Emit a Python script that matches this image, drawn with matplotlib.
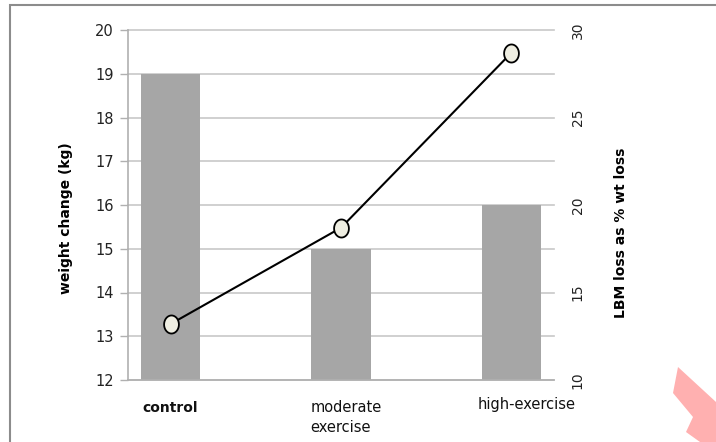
import matplotlib
matplotlib.use("Agg")
import matplotlib.pyplot as plt
import numpy as np
from matplotlib.path import Path
from matplotlib.patches import Polygon, Rectangle

# Data
groups = ["control", "moderate\nexercise", "high-exercise"]
weight_change = [19, 15, 16]          # kg, bars (left axis)
lbm_loss_pct = [13.2, 18.7, 28.7]     # % of weight loss, line (right axis)
left_ticks = [12, 13, 14, 15, 16, 17, 18, 19, 20]
right_ticks = [10, 15, 20, 25, 30]

W, H = 716, 442
fig = plt.figure(figsize=(W / 100, H / 100), dpi=100)

# outer chart frame
fig.add_artist(Rectangle((10 / W, -0.1), 1.2, (H - 5.5) / H + 0.1,
                         transform=fig.transFigure, fill=False,
                         edgecolor="#8c8c8c", linewidth=1.5))

ax = fig.add_axes([128 / W, (H - 380) / H, (554 - 128) / W, (380 - 30) / H])
x = np.arange(len(groups))
ax.set_xlim(-0.25, 2.25)
ax.set_ylim(12, 20)
ax.bar(x, weight_change, width=0.35, color="#a6a6a6", zorder=2)
ax.set_yticks(left_ticks)
ax.grid(axis="y", color="#c8c8c8", linewidth=1.2, zorder=0)
for gl in ax.get_ygridlines():
    gl.set_clip_on(False)
ax.tick_params(axis="y", length=6, width=1, color="#b0b0b0",
               labelsize=10.5, labelcolor="#222222", pad=4)
ax.tick_params(axis="x", length=0, labelbottom=False)
for s in ["top", "right"]:
    ax.spines[s].set_visible(False)
for s in ["left", "bottom"]:
    ax.spines[s].set_color("#b0b0b0")
    ax.spines[s].set_linewidth(1.2)
ax.set_ylabel("weight change (kg)", fontsize=10, fontweight="bold")
ax.yaxis.set_label_coords(-0.128, 0.463)

# category labels
ax.text(x[0], 11.35, "control", ha="center", va="center",
        fontsize=10, fontweight="bold", color="#111111")
ax.text(x[1] - 0.18, 11.54, groups[1], ha="left", va="top",
        fontsize=10.5, color="#111111", linespacing=1.4)
ax.text(x[2] + 0.09, 11.45, groups[2], ha="center", va="center",
        fontsize=10.5, color="#111111")

# right axis with the line
ax2 = ax.twinx()
ax2.set_ylim(10, 30)
ax2.set_yticks(right_ticks)
for s in ax2.spines.values():
    s.set_visible(False)
ax2.tick_params(axis="y", length=0, labelsize=10, labelcolor="#222222",
                pad=12, labelrotation=90)
for lab in ax2.get_yticklabels():
    lab.set_va("center")
ax2.set_ylabel("LBM loss as % wt loss", fontsize=10, fontweight="bold",
               rotation=90)
ax2.yaxis.set_label_coords(1.14, 0.42)

t = np.linspace(0, 2 * np.pi, 60)
ellipse = Path(np.column_stack([0.82 * np.cos(t), np.sin(t)]), closed=True)
ax2.plot(x, lbm_loss_pct, color="black", linewidth=1.5, marker=ellipse,
         markersize=13, markerfacecolor="#efeee2", markeredgecolor="black",
         markeredgewidth=1.3, zorder=3)

# pink arrow fragment at bottom right
pts = [(678, 367), (716, 402), (716, 442), (700, 442), (686, 432),
       (693, 417), (673, 393)]
fig.add_artist(Polygon([(px / W, 1 - py / H) for px, py in pts],
                       closed=True, transform=fig.transFigure,
                       facecolor="#ffb0b0", edgecolor="none"))

fig.savefig("out.png", dpi=100)
